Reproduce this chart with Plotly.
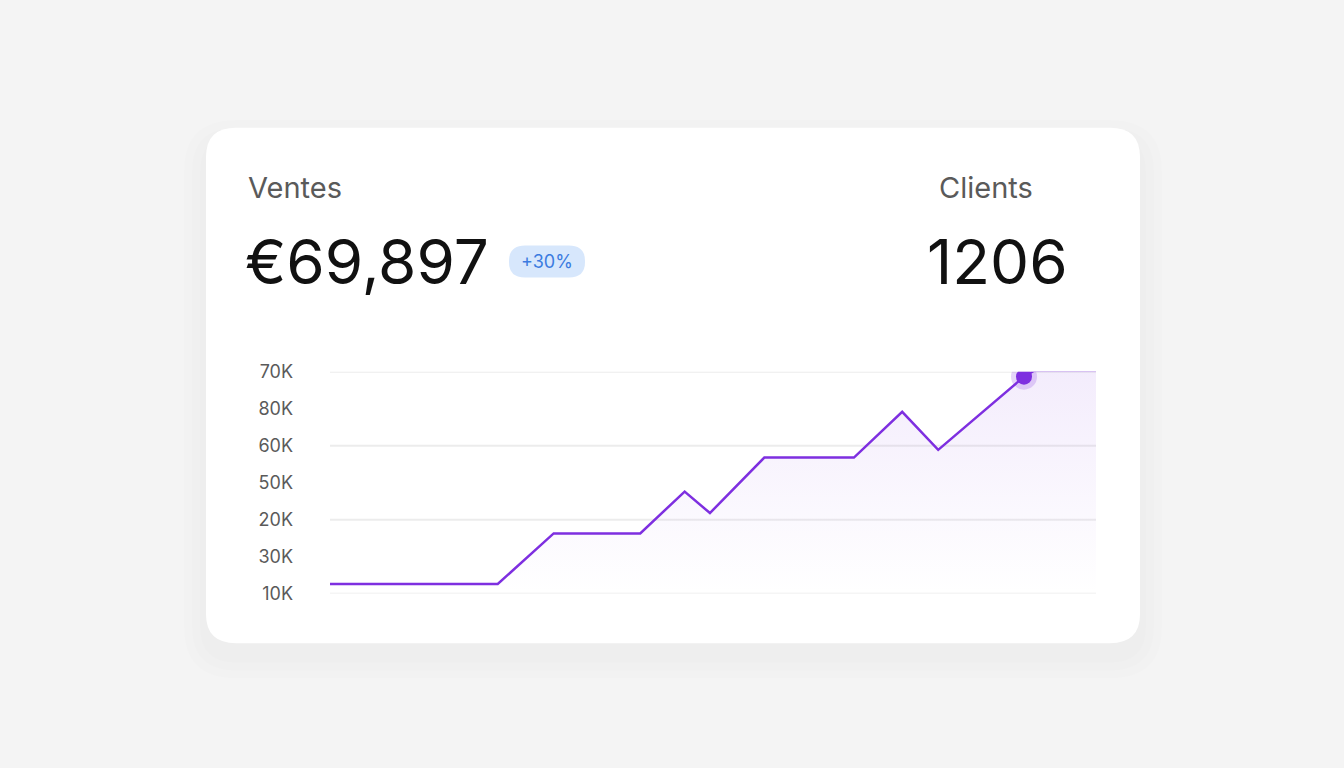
import plotly.graph_objects as go

W, H = 1344, 768
x_vals = [0, 21.9, 29.2, 40.5, 46.3, 49.6, 56.7, 68.4, 74.7, 79.4, 90.6, 91.9, 100]
y_vals = [0.26, 0.26, 1.63, 1.63, 2.76, 2.18, 3.68, 3.68, 4.92, 3.89, 5.87, 6.03, 6.03]
tick_pos = [0, 1, 2, 3, 4, 5, 6]
tick_text = ["10K", "30K", "20K", "50K", "60K", "80K", "70K"]
hl_x, hl_y = 90.6, 5.87
title_left, value_left, badge = "Ventes", "€69,897", "+30%"
title_right, value_right = "Clients", "1206"

def px(x): return x / W
def py(y): return 1 - y / H

def rounded(x0, y0, x1, y1, r):
    return f"M {px(x0+r)},{py(y0)} L {px(x1-r)},{py(y0)} Q {px(x1)},{py(y0)} {px(x1)},{py(y0+r)} " \
           f"L {px(x1)},{py(y1-r)} Q {px(x1)},{py(y1)} {px(x1-r)},{py(y1)} L {px(x0+r)},{py(y1)} " \
           f"Q {px(x0)},{py(y1)} {px(x0)},{py(y1-r)} L {px(x0)},{py(y0+r)} Q {px(x0)},{py(y0)} {px(x0+r)},{py(y0)} Z"

fig = go.Figure()
fig.add_trace(go.Scatter(
    x=x_vals, y=y_vals, mode="lines", line=dict(color="#7e2fe0", width=2.5),
    fill="tozeroy",
    fillgradient=dict(type="vertical", colorscale=[[0, "rgba(126,47,224,0.0)"], [1, "rgba(126,47,224,0.09)"]]),
    hoverinfo="skip"))
fig.add_trace(go.Scatter(x=[hl_x], y=[hl_y], mode="markers",
    marker=dict(size=26, color="rgba(126,47,224,0.2)"), hoverinfo="skip"))
fig.add_trace(go.Scatter(x=[hl_x], y=[hl_y], mode="markers",
    marker=dict(size=16, color="#7e2fe0"), hoverinfo="skip"))

shapes = []
for i, a in enumerate([0.006, 0.006, 0.008]):
    d = 6 + i * 8
    shapes.append(dict(type="path", xref="paper", yref="paper", layer="below",
        path=rounded(206 - d, 120 - d + 14, 1140 + d, 650 + d + 14, 30 + d),
        fillcolor=f"rgba(0,0,0,{a})", line=dict(width=0)))
shapes.append(dict(type="path", xref="paper", yref="paper", layer="below",
    path=rounded(206, 120, 1140, 650, 30), fillcolor="#ffffff", line=dict(width=0)))
shapes.append(dict(type="path", xref="paper", yref="paper",
    path=rounded(509, 241, 585, 274, 16), fillcolor="#d7e7fc", line=dict(width=0)))

ann = [
    dict(x=px(246), y=py(181), text=title_left, xanchor="left", yanchor="middle",
         font=dict(size=29, color="#5a5a5a")),
    dict(x=px(243), y=py(258), text=value_left, xanchor="left", yanchor="middle",
         font=dict(size=62, color="#111111")),
    dict(x=px(547), y=py(258), text=badge, xanchor="center", yanchor="middle",
         font=dict(size=18, color="#3b7be0")),
    dict(x=px(1035), y=py(181), text=title_right, xanchor="right", yanchor="middle",
         font=dict(size=29, color="#5a5a5a")),
    dict(x=px(1070), y=py(258), text=value_right, xanchor="right", yanchor="middle",
         font=dict(size=62, color="#111111")),
]
for a in ann:
    a.update(xref="paper", yref="paper", showarrow=False)

fig.update_layout(
    width=W, height=H, margin=dict(l=0, r=0, t=0, b=0),
    paper_bgcolor="#f4f4f4", plot_bgcolor="rgba(0,0,0,0)",
    font=dict(family="Inter, Liberation Sans, sans-serif"),
    showlegend=False, shapes=shapes, annotations=ann,
    xaxis=dict(domain=[px(330), px(1096)], range=[0, 100], visible=False, fixedrange=True),
    yaxis=dict(domain=[py(599), py(371)], range=[0, 6], tickvals=tick_pos, ticktext=tick_text,
               showgrid=False, zeroline=False, ticks="", ticklabelstandoff=36,
               tickfont=dict(size=18, color="#5a5a5a")),
)
for gy in [0, 2, 4, 6]:
    fig.add_shape(type="line", xref="x", yref="y", x0=0, x1=100, y0=gy, y1=gy,
                  line=dict(color="#ececec", width=2), layer="below")
fig.write_html("out.html", config={"responsive": False, "displayModeBar": False},
               post_script="document.body.style.margin='0';document.body.style.overflow='hidden';")
